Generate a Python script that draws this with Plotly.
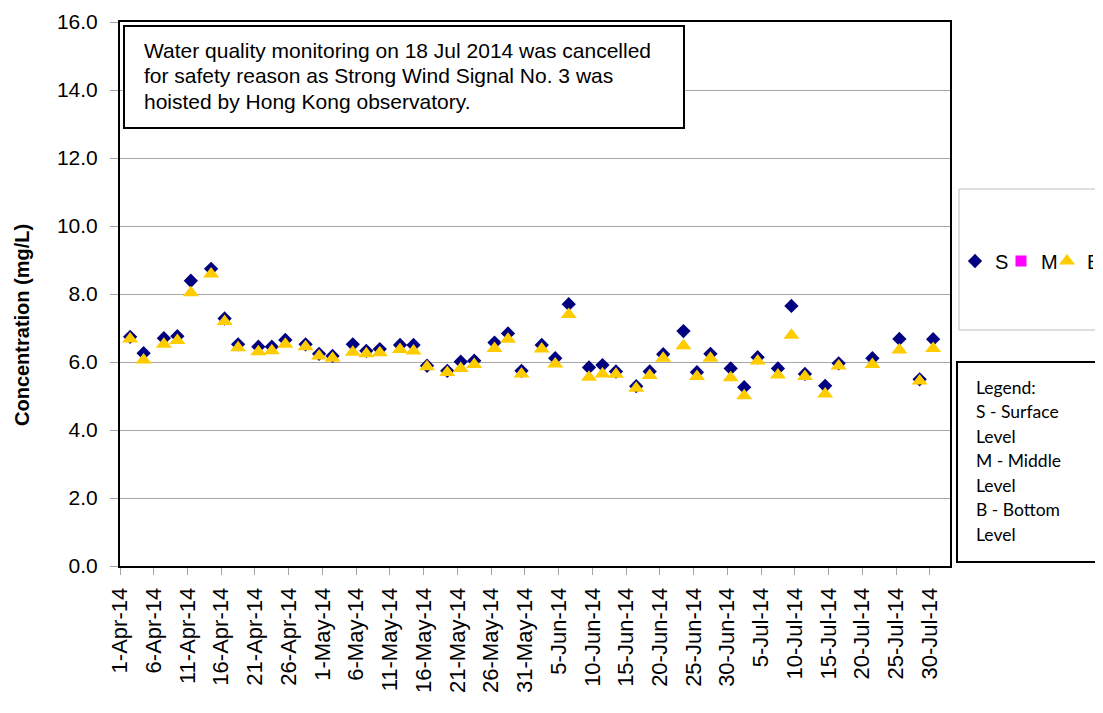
import plotly.graph_objects as go
import pandas as pd

dates = ["2014-04-02", "2014-04-04", "2014-04-07", "2014-04-09", "2014-04-11", "2014-04-14",
         "2014-04-16", "2014-04-18", "2014-04-21", "2014-04-23", "2014-04-25", "2014-04-28",
         "2014-04-30", "2014-05-02", "2014-05-05", "2014-05-07", "2014-05-09", "2014-05-12",
         "2014-05-14", "2014-05-16", "2014-05-19", "2014-05-21", "2014-05-23", "2014-05-26",
         "2014-05-28", "2014-05-30", "2014-06-02", "2014-06-04", "2014-06-06", "2014-06-09",
         "2014-06-11", "2014-06-13", "2014-06-16", "2014-06-18", "2014-06-20", "2014-06-23",
         "2014-06-25", "2014-06-27", "2014-06-30", "2014-07-02", "2014-07-04", "2014-07-07",
         "2014-07-09", "2014-07-11", "2014-07-14", "2014-07-16", "2014-07-21", "2014-07-25",
         "2014-07-28", "2014-07-30"]

surface = [6.74, 6.26, 6.70, 6.76, 8.39, 8.74, 7.28, 6.52, 6.45, 6.45, 6.65, 6.52, 6.24, 6.18,
           6.52, 6.33, 6.38, 6.50, 6.50, 5.89, 5.74, 6.01, 6.04, 6.57, 6.84, 5.74, 6.50, 6.11,
           7.70, 5.84, 5.91, 5.72, 5.29, 5.72, 6.23, 6.91, 5.70, 6.24, 5.81, 5.26, 6.14, 5.81,
           7.65, 5.65, 5.30, 5.96, 6.11, 6.68, 5.49, 6.67]
middle = []  # no middle-level readings
bottom = [6.68, 6.06, 6.52, 6.63, 8.04, 8.59, 7.19, 6.42, 6.30, 6.33, 6.52, 6.45, 6.18, 6.11,
          6.29, 6.24, 6.27, 6.37, 6.32, 5.86, 5.69, 5.81, 5.93, 6.40, 6.67, 5.65, 6.38, 5.94,
          7.40, 5.55, 5.65, 5.64, 5.23, 5.60, 6.11, 6.48, 5.57, 6.11, 5.54, 5.01, 6.03, 5.62,
          6.79, 5.57, 5.06, 5.88, 5.93, 6.35, 5.44, 6.40]

tick_dates = pd.date_range("2014-04-01", "2014-07-30", freq="5D")
tick_labels = [f"{d.day}-{d.strftime('%b-%y')}" for d in tick_dates]
# Excel-style date axis: tick marks sit on category boundaries (half a day before each date)
tick_vals = [d - pd.Timedelta(hours=12) for d in tick_dates]

yticks = [0, 2, 4, 6, 8, 10, 12, 14, 16]
ytick_labels = [f"{v:.1f}" for v in yticks]

note_lines = ["Water quality monitoring on 18 Jul 2014 was cancelled",
              "for safety reason as Strong Wind Signal No. 3 was",
              "hoisted by Hong Kong observatory."]
legend_lines = ["Legend:", "S - Surface", "Level", "M - Middle", "Level", "B - Bottom", "Level"]

FONT = "Liberation Sans, Arial, sans-serif"

fig = go.Figure()
fig.add_trace(go.Scatter(x=dates, y=surface, mode="markers", name="S",
                         marker=dict(symbol="diamond", size=11, color="#000080")))
fig.add_trace(go.Scatter(x=middle if middle else [None], y=middle if middle else [None],
                         mode="markers", name="M",
                         marker=dict(symbol="square", size=11, color="#FF00FF")))
fig.add_trace(go.Scatter(x=dates, y=bottom, mode="markers", name="B",
                         marker=dict(symbol="triangle-up", size=14, color="#FFCC00")))

OFF = 8  # page body margin
W, H = 1103 - OFF, 713 - OFF
L, T = 120 - OFF, 22 - OFF
PR, PB = 950 - OFF, 566 - OFF
R, B = W - PR, H - PB
pw, ph = PR - L, PB - T


def px(x):
    return (x - OFF - L) / pw


def py(y):
    return (PB - (y - OFF)) / ph


fig.update_layout(
    width=W, height=H,
    margin=dict(l=L, r=R, t=T, b=B, autoexpand=False),
    paper_bgcolor="white", plot_bgcolor="white",
    font=dict(family=FONT, size=20, color="black"),
    showlegend=True,
    legend=dict(orientation="h", x=px(955), y=py(261), xanchor="left", yanchor="middle",
                font=dict(size=20), bgcolor="rgba(0,0,0,0)", itemwidth=30,
                entrywidth=1, traceorder="normal"),
    xaxis=dict(type="date", range=["2014-03-31 12:00", "2014-08-01 12:00"],
               tickmode="array", tickvals=tick_vals, ticktext=tick_labels,
               tickangle=-90, tickfont=dict(size=22),
               showgrid=False, zeroline=False,
               showline=True, linecolor="black", linewidth=2, mirror=True,
               ticks="outside", ticklen=7, tickcolor="#A6A6A6", tickwidth=1,
               ticklabelstandoff=4),
    yaxis=dict(range=[0, 16], tickmode="array", tickvals=yticks, ticktext=ytick_labels,
               tickfont=dict(size=21),
               showgrid=True, gridcolor="#A6A6A6", gridwidth=1, zeroline=False,
               showline=True, linecolor="black", linewidth=2, mirror=True,
               ticks="outside", ticklen=8, tickcolor="#A6A6A6", tickwidth=1,
               ticklabelstandoff=8),
)

# note box
fig.add_shape(type="rect", xref="paper", yref="paper",
              x0=px(124), x1=px(684), y0=py(128), y1=py(26),
              line=dict(color="black", width=2), fillcolor="white", layer="above")
for i, line in enumerate(note_lines):
    fig.add_annotation(xref="paper", yref="paper", x=px(142), y=py(50 + 25.5 * i),
                       xanchor="left", yanchor="middle", align="left", showarrow=False,
                       text=line, font=dict(family=FONT, size=21, color="black"))

# legend frame
fig.add_shape(type="rect", xref="paper", yref="paper",
              x0=px(959), x1=px(1115), y0=py(330), y1=py(189),
              line=dict(color="#BFBFBF", width=1), fillcolor="rgba(0,0,0,0)")

# legend explanation box
fig.add_shape(type="rect", xref="paper", yref="paper",
              x0=px(957), x1=px(1115), y0=py(562), y1=py(362),
              line=dict(color="black", width=2), fillcolor="white")
for i, line in enumerate(legend_lines):
    fig.add_annotation(xref="paper", yref="paper", x=px(974), y=py(387 + 24.5 * i),
                       xanchor="left", yanchor="middle", align="left", showarrow=False,
                       text=line, font=dict(family="Lato, sans-serif", size=17.5, color="black"))

# y-axis title
fig.add_annotation(xref="paper", yref="paper", x=px(22), y=py(325),
                   xanchor="center", yanchor="middle", showarrow=False, textangle=-90,
                   text="<b>Concentration (mg/L)</b>",
                   font=dict(family=FONT, size=20, color="black"))

fig.write_html("out.html")
